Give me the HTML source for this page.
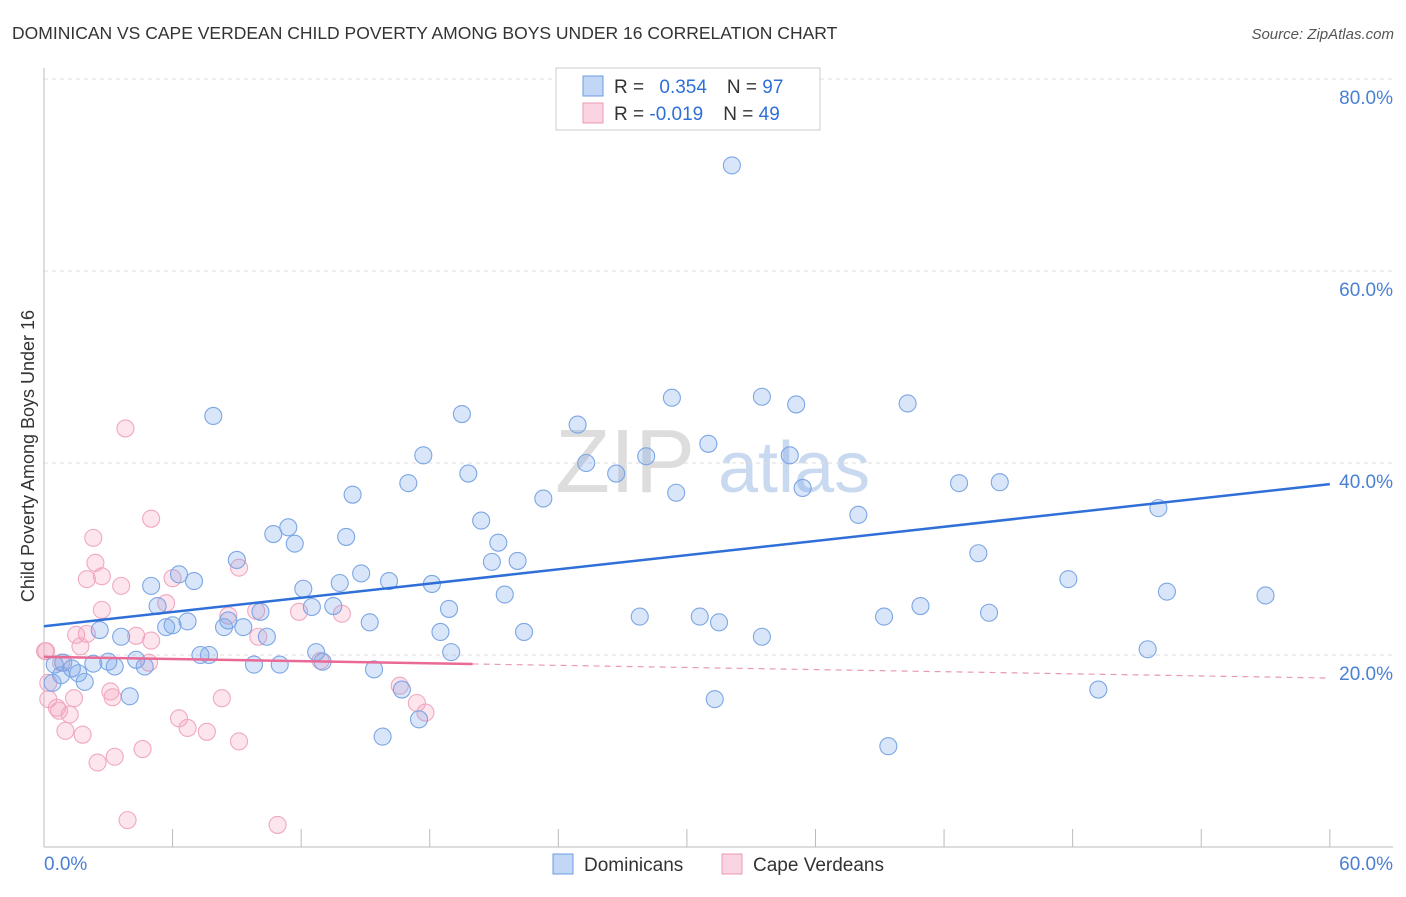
<!DOCTYPE html>
<html><head><meta charset="utf-8"><style>
body{margin:0;background:#fff;font-family:"Liberation Sans",sans-serif;}
svg text{font-family:"Liberation Sans",sans-serif;}
</style></head><body>
<svg id="chart" width="1406" height="892">
<text x="12" y="39" font-size="17.5" fill="#333">DOMINICAN VS CAPE VERDEAN CHILD POVERTY AMONG BOYS UNDER 16 CORRELATION CHART</text>
<text x="1394" y="39" font-size="15" fill="#555" text-anchor="end" font-style="italic">Source: ZipAtlas.com</text>
<text x="555" y="492" font-size="90" fill="#ddd" font-family="Liberation Serif">ZIP</text>
<text x="718" y="492" font-size="72" fill="#c8d9f0">atlas</text>
<g id="grid"></g><g id="axes"></g><g id="pts"></g><g id="trend"></g>
<text transform="translate(34,456) rotate(-90)" font-size="18" fill="#333" text-anchor="middle">Child Poverty Among Boys Under 16</text>
<g>
<rect x="556" y="68" width="264" height="62" fill="#fff" stroke="#ccc"/>
<rect x="583" y="76" width="20" height="20" fill="rgba(120,165,235,0.45)" stroke="#6b9be0"/>
<rect x="583" y="103" width="20" height="20" fill="rgba(245,160,190,0.45)" stroke="#ec9ab5"/>
<text x="614" y="93" font-size="19" fill="#333">R = <tspan fill="#2f6fd8" dx="10">0.354</tspan><tspan dx="20" fill="#333">N = </tspan><tspan fill="#2f6fd8">97</tspan></text>
<text x="614" y="120" font-size="19" fill="#333">R = <tspan fill="#2f6fd8">-0.019</tspan><tspan dx="20" fill="#333">N = </tspan><tspan fill="#2f6fd8">49</tspan></text>
</g>
<g>
<rect x="553" y="854" width="20" height="20" fill="rgba(120,165,235,0.45)" stroke="#6b9be0"/>
<text x="584" y="871" font-size="19" fill="#333">Dominicans</text>
<rect x="722" y="854" width="20" height="20" fill="rgba(245,160,190,0.45)" stroke="#ec9ab5"/>
<text x="753" y="871" font-size="19" fill="#333">Cape Verdeans</text>
</g>
</svg>
<script>
const blueX=[32.1,7.9,19.5,29.3,33.5,35.1,40.3,24.9,17.7,31.0,25.3,26.7,28.1,19.8,34.8,17.0,14.4,23.3,29.5,35.4,42.7,44.6,52.0,38.0,20.4,10.7,11.4,11.7,14.1,21.2,9.0,20.9,22.1,43.6,14.8,5.0,6.3,7.0,12.1,13.8,16.1,18.1,47.8,21.5,52.4,57.0,5.3,12.5,13.5,18.9,27.8,30.6,31.5,39.2,40.9,44.1,6.7,6.0,5.7,10.1,8.6,8.4,15.2,2.6,3.6,9.3,10.4,18.5,22.4,33.5,51.5,7.3,7.7,12.7,13.0,19.0,0.5,0.9,1.3,2.3,3.0,3.3,4.3,4.7,9.8,11.0,15.4,0.8,1.6,1.9,0.4,4.0,16.7,31.3,49.2,17.5,15.8,39.4];
const blueY=[71.0,44.9,45.1,46.8,46.9,46.1,46.2,44.0,40.8,42.0,40.0,38.9,40.7,38.9,40.8,37.9,36.7,36.3,36.9,37.4,37.9,38.0,35.3,34.6,34.0,32.6,33.3,31.6,32.3,31.7,29.9,29.7,29.8,30.6,28.5,27.2,28.4,27.7,26.9,27.5,27.7,27.4,27.9,26.3,26.6,26.2,25.1,25.0,25.1,24.8,24.0,24.0,23.4,24.0,25.1,24.4,23.5,23.1,22.9,24.5,23.6,22.9,23.4,22.6,21.9,22.9,21.9,22.4,22.4,21.9,20.6,20.0,20.0,20.3,19.3,20.3,19.0,19.2,18.6,19.1,19.3,18.8,19.5,18.8,19.0,19.0,18.5,17.9,18.1,17.2,17.1,15.7,16.4,15.4,16.4,13.3,11.5,10.5];
const pinkX=[3.8,5.0,2.3,2.4,2.7,2.0,3.6,6.0,9.1,5.7,2.7,8.6,9.9,11.9,13.9,1.5,2.0,4.3,5.0,1.7,10.0,0.1,0.8,4.9,12.9,0.2,0.2,1.4,3.1,3.2,8.3,16.6,17.4,17.8,0.6,0.7,1.2,6.3,1.0,1.8,6.7,7.6,9.1,4.6,3.3,2.5,3.9,10.9,0.05];
const pinkY=[43.6,34.2,32.2,29.6,28.2,27.9,27.2,28.0,29.1,25.4,24.7,24.1,24.6,24.5,24.3,22.1,22.2,22.0,21.5,20.9,21.9,20.4,19.2,19.2,19.4,17.1,15.4,15.5,16.2,15.6,15.5,16.8,15.0,14.0,14.5,14.2,13.8,13.4,12.1,11.7,12.4,12.0,11.0,10.2,9.4,8.8,2.8,2.3,20.4];
const xTicks=["0.0%","60.0%"];
const yTicks=[20,40,60,80];
const blueTrend=[23.0,37.8];
const pinkTrend=[19.8,17.6];
const X=v=>44+v*21.43, Y=v=>847-v*9.6;
const NS="http://www.w3.org/2000/svg";
function mk(tag,attrs,parent){const e=document.createElementNS(NS,tag);for(const k in attrs)e.setAttribute(k,attrs[k]);document.getElementById(parent).appendChild(e);return e;}
yTicks.forEach(t=>{
 const l=mk('line',{x1:44,x2:1393,y1:Y(t),y2:Y(t),stroke:'#ddd','stroke-dasharray':'4,4'},'grid');
 
 
 const tx=mk('text',{x:1393,y:Y(t)+25,'font-size':19,fill:'#4a7fd4','text-anchor':'end'},'grid');
 tx.textContent=t.toFixed(1)+'%';
 
 
});
const ax=mk('line',{x1:44,x2:44,y1:68,y2:847,stroke:'#bbb'},'axes');


const bx=mk('line',{x1:44,x2:1393,y1:847,y2:847,stroke:'#bbb'},'axes');


for(let i=0;i<=10;i++){const t=mk('line',{x1:X(i*6),x2:X(i*6),y1:829,y2:847,stroke:'#bbb'},'axes');
 
 }
[[0,'start',44],[1,'end',1393]].forEach(([i,a,x])=>{const t=mk('text',{x:x,y:870,'font-size':19,fill:'#4a7fd4','text-anchor':a},'axes');t.textContent=xTicks[i];
 
 });
pinkX.forEach((v,i)=>{const c=mk('circle',{cx:X(v),cy:Y(pinkY[i]),r:8.5,fill:'rgba(245,160,190,0.28)',stroke:'#f0a8c0','stroke-width':1.1},'pts');
 
 });
blueX.forEach((v,i)=>{const c=mk('circle',{cx:X(v),cy:Y(blueY[i]),r:8.5,fill:'rgba(120,165,235,0.28)',stroke:'#7ca6e4','stroke-width':1.1},'pts');
 
 });
const bl=mk('line',{x1:X(0),y1:Y(blueTrend[0]),x2:X(60),y2:Y(blueTrend[1]),stroke:'#2f6fd8','stroke-width':2.5},'trend');


const py=x=>pinkTrend[0]+(pinkTrend[1]-pinkTrend[0])*x/60;
const pl=mk('line',{x1:X(0),y1:Y(py(0)),x2:X(20),y2:Y(py(20)),stroke:'#e86a95','stroke-width':2.5},'trend');


const pd=mk('line',{x1:X(20),y1:Y(py(20)),x2:X(60),y2:Y(py(60)),stroke:'#e89ab5','stroke-width':1.2,'stroke-dasharray':'6,5'},'trend');


</script>
</body></html>
